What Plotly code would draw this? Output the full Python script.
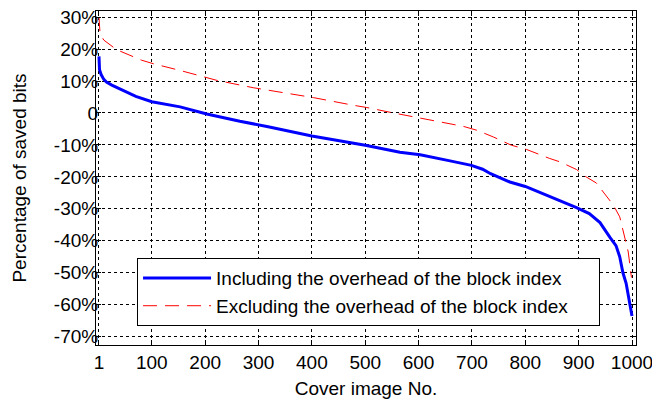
import plotly.graph_objects as go

# Data
x_incl = [1, 2, 5, 10, 15, 25, 46, 70, 100, 153, 203, 265, 318, 400, 500, 565, 603, 640, 659,
          699, 720, 735, 771, 800, 830, 852, 896, 920, 940, 959, 970, 977, 983, 989, 993, 997, 1000]
y_incl = [17.7, 13.5, 12.0, 10.5, 9.7, 8.7, 7.1, 5.2, 3.5, 1.9, -0.3, -2.6, -4.3, -7.2, -10.1,
          -12.3, -13.1, -14.2, -15.0, -16.4, -17.6, -19.0, -21.6, -23.0, -25.0, -26.6, -29.6,
          -31.5, -34.3, -39.0, -41.5, -45.0, -50.0, -53.3, -57.5, -61.5, -63.5]

x_excl = [1, 2, 3, 10, 18, 34, 81, 103, 153, 172, 222, 290, 322, 403, 478, 503, 553, 615, 659,
          684, 709, 740, 774, 802, 845, 865, 896, 914, 933, 949, 965, 977, 987, 993, 999]
y_excl = [30.0, 26.0, 24.8, 22.8, 21.7, 19.8, 16.5, 15.4, 13.3, 12.5, 10.2, 7.9, 7.0, 4.8, 2.4,
          1.7, 0.0, -2.1, -3.5, -4.2, -5.4, -7.5, -10.1, -11.4, -14.2, -15.3, -17.7, -20.0,
          -21.9, -25.2, -28.8, -32.5, -39.5, -43.5, -51.5]

x_tickvals = [1, 100, 200, 300, 400, 500, 600, 700, 800, 900, 1000]
x_ticktext = ["1", "100", "200", "300", "400", "500", "600", "700", "800", "900", "1000"]
y_tickvals = [30, 20, 10, 0, -10, -20, -30, -40, -50, -60, -70]
y_ticktext = ["30%", "20%", "10%", "0", "-10%", "-20%", "-30%", "-40%", "-50%", "-60%", "-70%"]

FONT = "Liberation Sans, Arial, sans-serif"
FS = 19

fig = go.Figure()
fig.add_trace(go.Scatter(
    x=x_incl, y=y_incl, mode="lines",
    name="Including the overhead of the block index",
    line=dict(color="#0000ff", width=3),
))
fig.add_trace(go.Scatter(
    x=x_excl, y=y_excl, mode="lines",
    name="Excluding the overhead of the block index",
    line=dict(color="#ff0000", width=1, dash="14px,8px"),
))

axis_common = dict(
    showline=True, linecolor="black", linewidth=1, mirror="ticks",
    ticks="inside", ticklen=5, tickcolor="black",
    showgrid=True, gridcolor="black", gridwidth=1, griddash="3px,3px",
    zeroline=False, automargin=False, ticklabeloverflow="allow",
    tickfont=dict(family=FONT, size=FS, color="black"),
)

fig.update_xaxes(
    range=[-4.6, 1007.5], tickmode="array", tickvals=x_tickvals, ticktext=x_ticktext,
    title=dict(text="Cover image No.", font=dict(family=FONT, size=FS, color="black"), standoff=9),
    **axis_common,
)
fig.update_yaxes(
    range=[-72.6, 31.9], tickmode="array", tickvals=y_tickvals, ticktext=y_ticktext,
    ticklabelstandoff=-7,
    title=dict(text="Percentage of saved bits", font=dict(family=FONT, size=FS, color="black"), standoff=22),
    **axis_common,
)

fig.update_layout(
    width=652, height=400,
    margin=dict(l=96, r=16, t=11, b=55, autoexpand=False),
    paper_bgcolor="white", plot_bgcolor="white",
    showlegend=True,
    legend=dict(
        x=0.076, y=0.26, xanchor="left", yanchor="top",
        orientation="h", entrywidth=378, entrywidthmode="pixels",
        bgcolor="white", bordercolor="black", borderwidth=1,
        itemwidth=68,
        font=dict(family=FONT, size=FS, color="black"),
    ),
)

# remove the browser's default page margin so the 652x400 figure fills the window
fig.write_html(
    "out.html",
    config={"displayModeBar": False},
    post_script="document.body.style.margin='0';document.body.style.overflow='hidden';",
)
